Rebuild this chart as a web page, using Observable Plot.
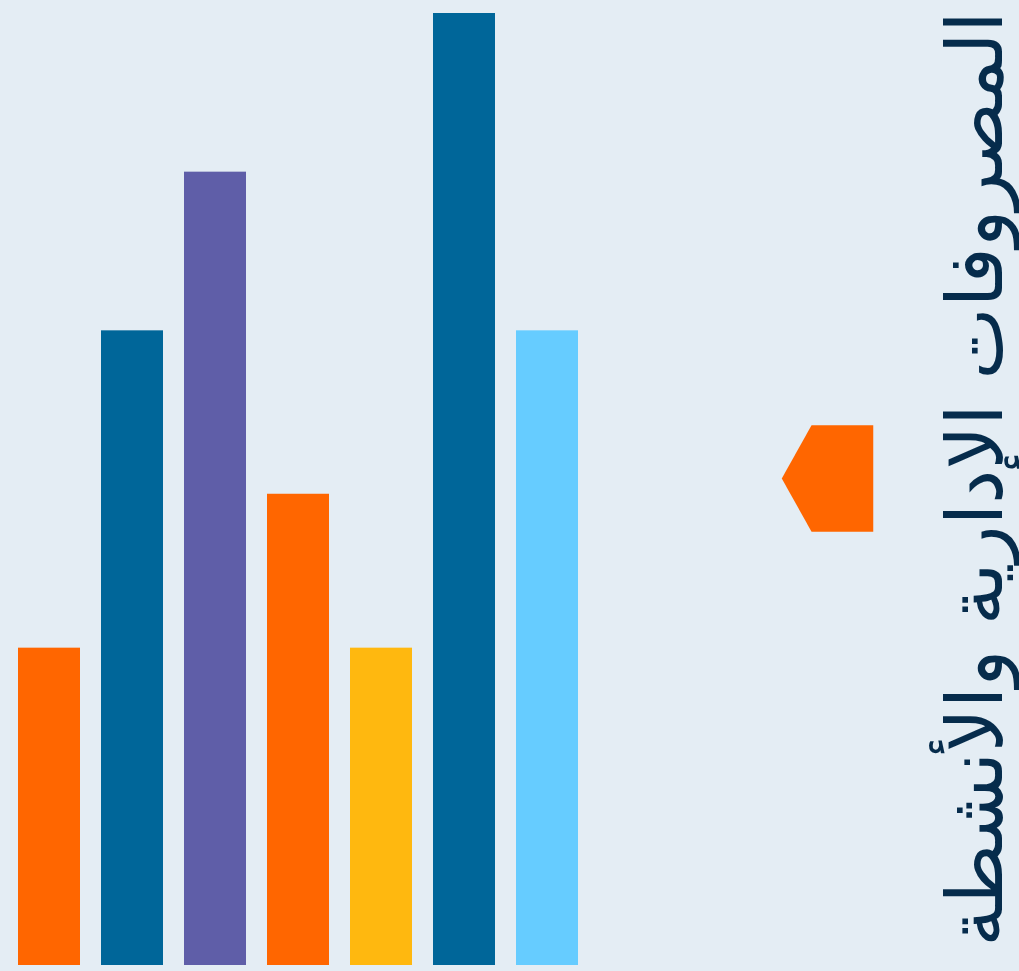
<!DOCTYPE html>
<html>
<head>
<meta charset="utf-8">
<script src="https://cdn.jsdelivr.net/npm/d3@7"></script>
<script src="https://cdn.jsdelivr.net/npm/@observablehq/plot@0.6"></script>
<style>
  html, body { margin: 0; padding: 0; background: #E4EDF4; }
  #chart { position: relative; width: 1019px; height: 971px; overflow: hidden; }
</style>
</head>
<body>
<div id="chart"></div>
<script>
const categories = ["1", "2", "3", "4", "5", "6", "7"];
const values = [20, 40, 50, 29.7, 20, 60, 40];
const barColors = ["#FF6600", "#006699", "#5F5EA8", "#FF6600", "#FFB80F", "#006699", "#66CCFF"];
const title = "المصروفات الإدارية والأنشطة";

const data = categories.map((c, i) => ({category: c, value: values[i], color: barColors[i]}));

// left-pointing pentagon marker
const pentagon = {
  draw(context, size) {
    const s = Math.sqrt(size);
    context.moveTo(-0.15 * s, -0.5 * s);
    context.lineTo(0.43 * s, -0.5 * s);
    context.lineTo(0.43 * s, 0.5 * s);
    context.lineTo(-0.15 * s, 0.5 * s);
    context.lineTo(-0.43 * s, 0);
    context.closePath();
  }
};

const chart = Plot.plot({
  width: 1019,
  height: 971,
  margin: 0,
  style: {background: "#E4EDF4", overflow: "visible"},
  x: {domain: categories, range: [18, 580], paddingInner: 0.25, paddingOuter: 0, align: 0, axis: null},
  y: {domain: [0, 60], range: [965, 13], axis: null},
  marks: [
    Plot.barY(data, {x: "category", y: "value", fill: "color"}),
    Plot.dot([title], {frameAnchor: "top-left", dx: 827, dy: 478, symbol: pentagon, r: 60, fill: "#FF6600", stroke: "none"}),
    Plot.text([title], {
      frameAnchor: "top-left", dx: 1001, dy: 478.5,
      text: d => d, rotate: -90, textAnchor: "middle", lineAnchor: "bottom",
      fontSize: 77, fill: "#062C4C", fontFamily: "DejaVu Sans, sans-serif"
    })
  ]
});
document.getElementById("chart").appendChild(chart);
</script>
</body>
</html>
